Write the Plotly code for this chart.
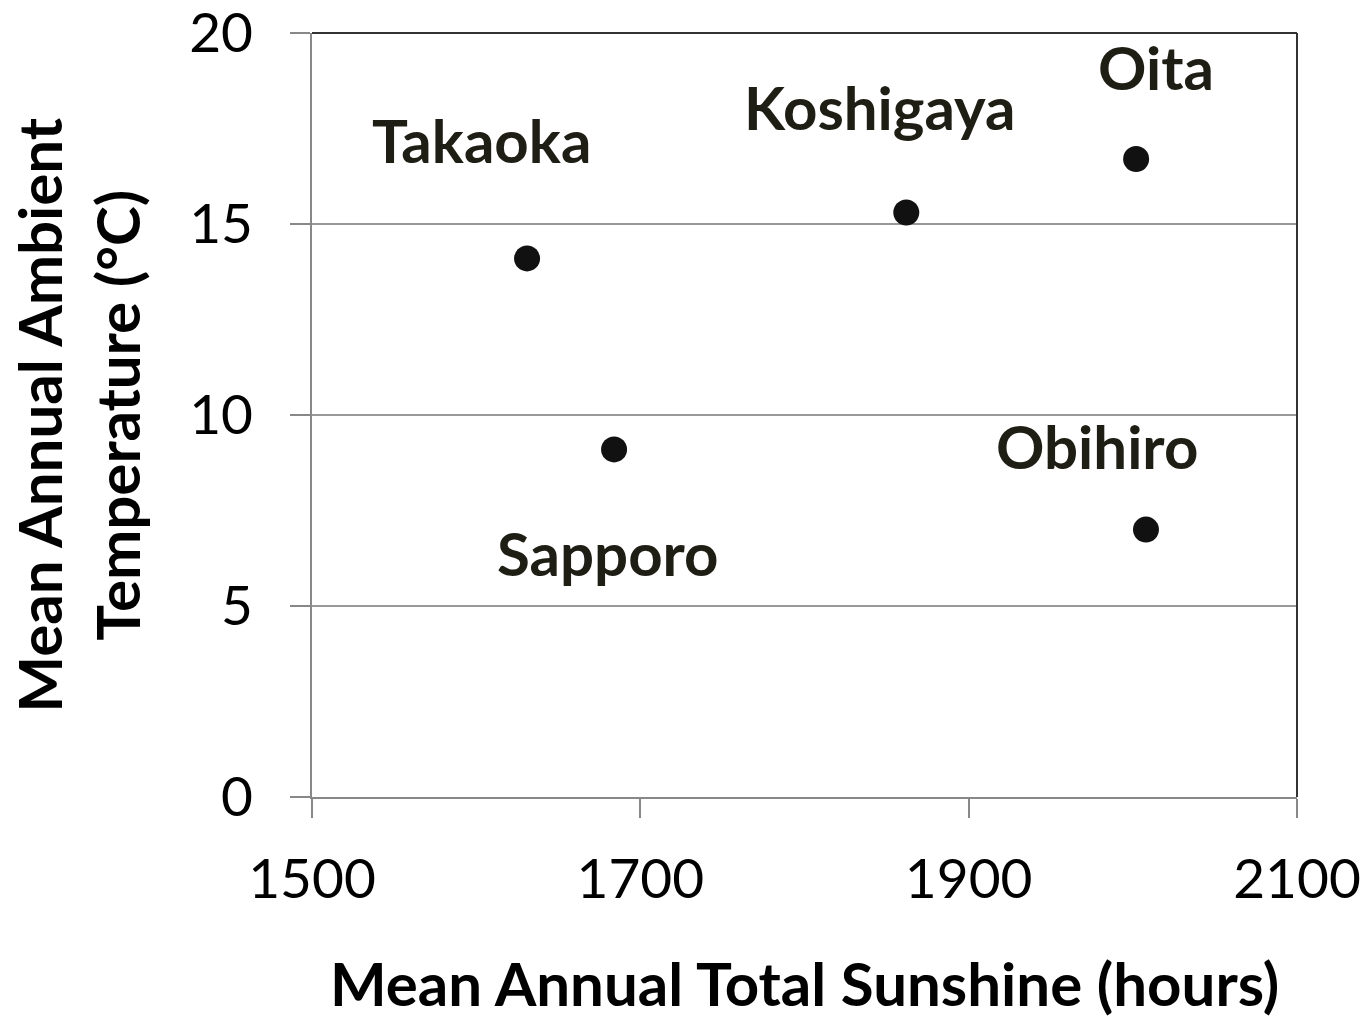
import plotly.graph_objects as go

cities = ["Takaoka", "Sapporo", "Koshigaya", "Oita", "Obihiro"]
sunshine = [1631, 1684, 1862, 2002, 2008]
temperature = [14.1, 9.1, 15.3, 16.7, 7.0]

label_x = [1603, 1680, 1846, 2014, 1978]
label_y = [17.2, 6.4, 18.05, 19.1, 9.2]

x_ticks = [1500, 1700, 1900, 2100]
y_ticks = [0, 5, 10, 15, 20]

FONT = "Lato"

fig = go.Figure()
fig.add_trace(go.Scatter(
    x=sunshine, y=temperature, mode="markers",
    marker=dict(size=26, color="#111111"),
    showlegend=False, hoverinfo="skip", cliponaxis=False))

for c, lx, ly in zip(cities, label_x, label_y):
    fig.add_annotation(x=lx, y=ly, text=f"<b>{c}</b>", showarrow=False,
                       font=dict(family=FONT, size=60, color="#1f1e14"),
                       xanchor="center", yanchor="middle")

fig.add_annotation(xref="paper", yref="paper", x=0.5, y=-0.2435,
                   text="<b>Mean Annual Total Sunshine (hours)</b>", showarrow=False,
                   font=dict(family=FONT, size=60, color="#000000"),
                   xanchor="center", yanchor="middle")
fig.add_annotation(xref="paper", yref="paper", x=-0.238, y=0.5,
                   text="<b>Mean Annual Ambient<br>Temperature (°C)</b>", showarrow=False,
                   textangle=-90,
                   font=dict(family=FONT, size=60, color="#000000"),
                   xanchor="center", yanchor="middle")

# top and right borders
fig.add_shape(type="line", xref="paper", yref="paper", x0=0, x1=1, y0=1, y1=1,
              line=dict(color="#333333", width=2))
fig.add_shape(type="line", xref="paper", yref="paper", x0=1, x1=1, y0=0, y1=1,
              line=dict(color="#333333", width=2))

fig.update_xaxes(range=[1500, 2100], tickvals=x_ticks, showgrid=False,
                 showline=True, linecolor="#888888", linewidth=2,
                 ticks="outside", ticklen=19, tickwidth=2, tickcolor="#888888",
                 ticklabelstandoff=14, automargin=False, ticklabeloverflow="allow",
                 tickfont=dict(family=FONT, size=55, color="#000000"),
                 zeroline=False)
fig.update_yaxes(range=[0, 20], tickvals=y_ticks, showgrid=True,
                 gridcolor="#999999", gridwidth=2,
                 showline=True, linecolor="#888888", linewidth=2,
                 ticks="outside", ticklen=20, tickwidth=2, tickcolor="#888888",
                 ticklabelstandoff=26, automargin=False, ticklabeloverflow="allow",
                 tickfont=dict(family=FONT, size=55, color="#000000"),
                 zeroline=False)

fig.update_layout(width=1361, height=1008,
                  margin=dict(l=304, r=72, t=25, b=219),
                  plot_bgcolor="white", paper_bgcolor="white")

fig.write_html("out.html")
